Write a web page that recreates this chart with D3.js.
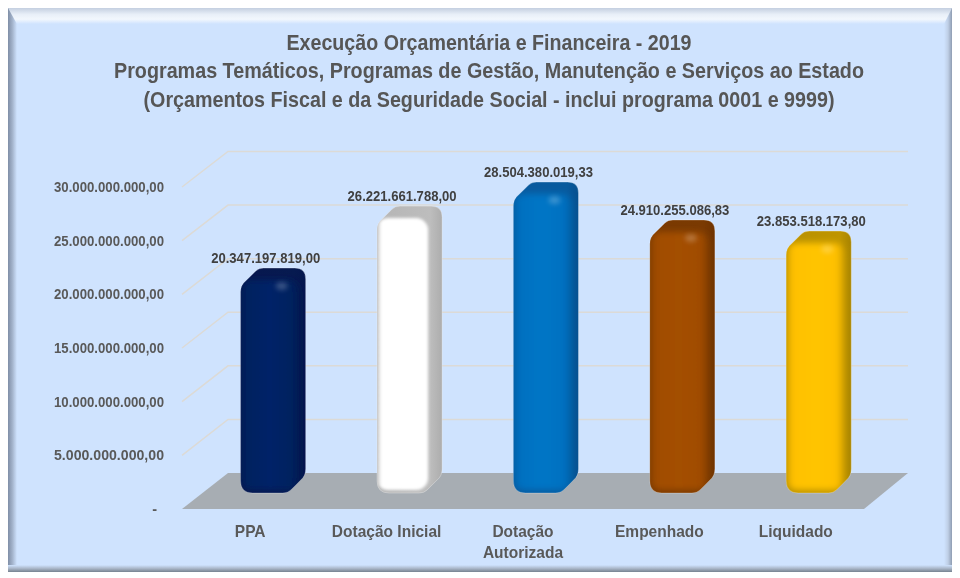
<!DOCTYPE html>
<html><head><meta charset="utf-8">
<script src="https://cdn.jsdelivr.net/npm/d3@7"></script>
<style>html,body{margin:0;padding:0;background:#fff}svg{display:block;filter:blur(.4px)}text{font-family:"Liberation Sans",Arial,sans-serif;font-weight:bold}</style>
</head><body><svg id="c" width="960" height="578"></svg>
<script>
const titleLines = ["Execução Orçamentária e Financeira - 2019",
  "Programas Temáticos, Programas de Gestão, Manutenção e Serviços ao Estado",
  "(Orçamentos Fiscal e da Seguridade Social - inclui programa 0001 e 9999)"];
const categories = ["PPA","Dotação Inicial","Dotação Autorizada","Empenhado","Liquidado"];
const values = [20347197819.00,26221661788.00,28504380019.33,24910255086.83,23853518173.80];
const tickValues = [0,5e9,10e9,15e9,20e9,25e9,30e9];
const palettes = [
  {edge:"#07174e",side:"#04164e",main:"#02205f",light:"#062568",top:"#061a50"},
  {edge:"#b5b5b5",side:"#adadad",main:"#ffffff",light:"#ffffff",top:"#bdbdbd"},
  {edge:"#0a5a9e",side:"#07508f",main:"#0070c0",light:"#0676c6",top:"#075a9e"},
  {edge:"#7a3900",side:"#6f3300",main:"#a04c04",light:"#a44f05",top:"#7a3a02"},
  {edge:"#b89000",side:"#a88400",main:"#ffc000",light:"#ffc404",top:"#bf9500"}
];
const svg=d3.select("#c");
const defs=svg.append("defs");
const loc=d3.formatLocale({decimal:",",thousands:".",grouping:[3],currency:["R$",""]});
const fmt=loc.format(",.2f");
const tickFmt=v=>v===0?"-":fmt(v);

// scales
const x=d3.scaleBand().domain(categories).range([182,864]);
const depth=46;
const yFront=d3.scaleLinear().domain([0,30e9]).range([509,187]);
const yBack=d3.scaleLinear().domain([0,30e9]).range([473,151.5]);
const yBar=d3.scaleLinear().domain([0,30e9]).range([482.5,166.3]);

function grad(id,x1,y1,x2,y2,stops){
  const g=defs.append("linearGradient").attr("id",id).attr("x1",x1).attr("y1",y1).attr("x2",x2).attr("y2",y2);
  stops.forEach(s=>g.append("stop").attr("offset",s[0]).attr("stop-color",s[1]).attr("stop-opacity",s[2]===undefined?1:s[2]));
}
grad("gTop",0,0,0,1,[[0,"#c4cfe0"],[.4,"#e8eff8"],[.7,"#f2f7fd"],[1,"#cfe3fe"]]);
grad("gLeft",0,0,1,0,[[0,"#7f8ea6"],[.5,"#a4b4cc"],[1,"#cfe3fe"]]);
grad("gRight",0,0,1,0,[[0,"#cfe3fe"],[.5,"#bfcfe6"],[1,"#8f9db2"]]);
grad("gBottom",0,0,0,1,[[0,"#cfe3fe"],[.5,"#a9b6c8"],[1,"#76828f"]]);
const panel=svg.append("g");
panel.append("rect").attr("x",8).attr("y",8).attr("width",944).attr("height",564).attr("fill","#cfe3fe");
panel.append("rect").attr("x",8).attr("y",8).attr("width",9).attr("height",564).attr("fill","url(#gLeft)");
panel.append("rect").attr("x",944).attr("y",8).attr("width",8).attr("height",564).attr("fill","url(#gRight)");
panel.append("rect").attr("x",8).attr("y",565).attr("width",944).attr("height",7).attr("fill","url(#gBottom)");
panel.append("path").attr("d","M8,8 L952,8 L944,24 L17,24 Z").attr("fill","url(#gTop)");

// title
svg.append("g").selectAll("text").data(titleLines).join("text")
  .attr("x",489).attr("y",(d,i)=>[50,78,107][i]).attr("text-anchor","middle")
  .attr("font-size",22).attr("fill","#565656")
  .attr("textLength",(d,i)=>[405,750,691][i]).attr("lengthAdjust","spacingAndGlyphs").text(d=>d);

// floor
const xL=x.range()[0],xR=x.range()[1];
svg.append("path").attr("fill","#a7adb3")
  .attr("d",d3.line()([[xL,yFront(0)],[xL+depth,yBack(0)],[xR+depth-2,yBack(0)],[xR,yFront(0)]])+"Z");

// grid
const grid=svg.append("g").attr("fill","none").attr("stroke","#dcdad6").attr("stroke-width",1.5);
grid.selectAll("path").data(tickValues.slice(1)).join("path")
  .attr("d",v=>d3.line()([[xL,yFront(v)],[xL+depth,yBack(v)],[xR+depth-2,yBack(v)]]));

// y axis
const axis=d3.axisLeft(yFront).tickValues(tickValues).tickFormat(tickFmt).tickSize(0).tickPadding(18);
const ay=svg.append("g").attr("transform",`translate(${xL},0)`).call(axis);
ay.select(".domain").remove();
ay.selectAll("text").attr("font-size",14.5).attr("fill","#595959").style("font-family",'"Liberation Sans"').style("font-weight","bold")
  .attr("dx",d=>d===0?-7:0)
  .attr("textLength",d=>d===0?null:110).attr("lengthAdjust",d=>d===0?null:"spacingAndGlyphs");

// bars
const barW=65;
const f=defs.append("filter").attr("id","soft").attr("x","-20%").attr("y","-20%").attr("width","140%").attr("height","140%");
f.append("feGaussianBlur").attr("stdDeviation",1.6);
const f3=defs.append("filter").attr("id","softer").attr("x","-20%").attr("y","-20%").attr("width","140%").attr("height","140%");
f3.append("feGaussianBlur").attr("stdDeviation",3);
const f2=defs.append("filter").attr("id","bl").attr("x","-100%").attr("y","-100%").attr("width","300%").attr("height","300%");
f2.append("feGaussianBlur").attr("stdDeviation",2.5);
palettes.forEach((p,i)=>{
  const white=i===1;
  grad("gBar"+i,0,0,1,0,[[0,p.edge],[.1,p.main],[.5,p.light],[.88,p.main],[1,white?"#ffffff":p.edge]]);
  grad("gBody"+i,0,0,1,0,[[0,p.edge],[.82,p.top],[1,p.side]]);
});
const bars=svg.append("g").selectAll("g").data(categories.map((c,i)=>({c,v:values[i],i}))).join("g");
function outline(xl,T,B){
  const xr=xl+barW;
  return `M${xl},${T+24} Q${xl},${T+17} ${xl+5},${T+13} L${xl+15},${T+3} Q${xl+18},${T} ${xl+23},${T}`
    +` L${xr-11},${T} Q${xr},${T} ${xr},${T+11} L${xr},${B-24} Q${xr},${B-17} ${xr-5},${B-13} L${xr-15},${B-3} Q${xr-18},${B} ${xr-23},${B}`
    +` L${xl+12},${B} Q${xl},${B} ${xl},${B-12} Z`;
}
bars.each(function(d){
  const g=d3.select(this);
  const xl=x(d.c)+x.bandwidth()/2+23-barW/2, T=yBar(d.v), B=yBar(0)+10.5;
  const cid="clip"+d.i, white=d.i===1;
  defs.append("clipPath").attr("id",cid).append("path").attr("d",outline(xl,T,B));
  g.append("path").attr("d",outline(xl,T,B)).attr("fill",`url(#gBody${d.i})`).attr("stroke","rgba(255,255,255,.3)").attr("stroke-width",1);
  const c=g.append("g").attr("clip-path",`url(#${cid})`);
  const fw=white?barW-13:barW-5;
  c.append("rect").attr("x",xl-1).attr("y",T+12).attr("width",fw).attr("height",B-T-15).attr("rx",12)
    .attr("fill",`url(#gBar${d.i})`).attr("filter",white?"url(#soft)":"url(#softer)");
  if(!white){
    c.append("ellipse").attr("cx",xl+41).attr("cy",T+18).attr("rx",6).attr("ry",4).attr("fill","#fff").attr("opacity",.22).attr("filter","url(#bl)");
  }
});

// value labels
svg.append("g").selectAll("text").data(categories.map((c,i)=>({c,v:values[i]}))).join("text")
  .attr("x",d=>x(d.c)+x.bandwidth()/2+15.5).attr("y",d=>yBar(d.v)-5)
  .attr("text-anchor","middle").attr("font-size",14.5).attr("fill","#404040")
  .attr("textLength",109).attr("lengthAdjust","spacingAndGlyphs").text(d=>fmt(d.v));

// category labels
const wraps={"Dotação Autorizada":["Dotação","Autorizada"]};
const catLines=categories.flatMap(c=>(wraps[c]||[c]).map((l,i)=>({c,l,i})));
svg.append("g").selectAll("text").data(catLines).join("text")
  .attr("text-anchor","middle").attr("font-size",16.5).attr("fill","#595959")
  .attr("x",d=>x(d.c)+x.bandwidth()/2).attr("y",d=>537+d.i*21).text(d=>d.l)
  .each(function(){ const n=this.getComputedTextLength(); d3.select(this).attr("textLength",n*.94).attr("lengthAdjust","spacingAndGlyphs"); });
</script></body></html>
